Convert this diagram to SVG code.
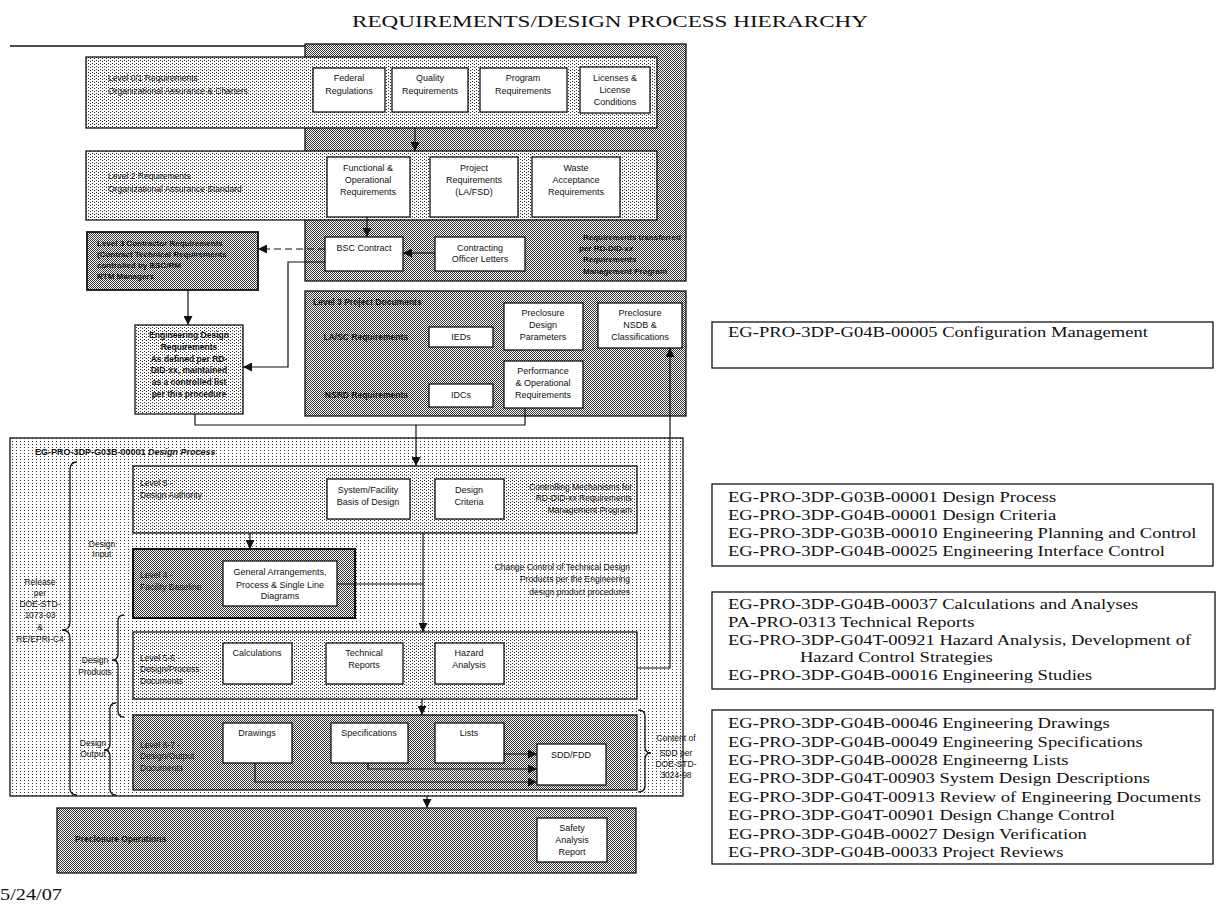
<svg xmlns="http://www.w3.org/2000/svg" width="1221" height="907" viewBox="0 0 1221 907">
<defs>
<pattern id="pL" width="4" height="3" patternUnits="userSpaceOnUse"><rect width="4" height="3" fill="#fff"/><rect width="1" height="1" fill="#333"/></pattern>
<pattern id="pM" width="4" height="3" patternUnits="userSpaceOnUse"><rect width="4" height="3" fill="#fff"/><rect width="1" height="1" fill="#222"/><rect x="2" y="1" width="1" height="1" fill="#222"/></pattern>
<pattern id="pD" width="2" height="2" patternUnits="userSpaceOnUse"><rect width="2" height="2" fill="#fff"/><rect width="1" height="1" fill="#333"/><rect x="1" y="1" width="1" height="1" fill="#333"/></pattern>
<marker id="ah" viewBox="0 0 10 10" refX="10" refY="5" markerWidth="9" markerHeight="9" orient="auto" markerUnits="userSpaceOnUse"><path d="M0,0 L10,5 L0,10 z" fill="#111"/></marker>
</defs>
<style>
.t{font-family:"Liberation Sans",Arial,sans-serif;font-size:8.5px;fill:#111}
.w{font-size:9px}
.c{text-anchor:middle}
.e{text-anchor:end}
.b{font-weight:bold}
.s{font-family:"Liberation Serif","Times New Roman",serif;font-size:15px;fill:#111}
.wb{fill:#fff;stroke:#111;stroke-width:1.3}
.fr{stroke:#111;stroke-width:1.3}
.ln{stroke:#111;stroke-width:1.2;fill:none}
.br{stroke:#111;stroke-width:1.3;fill:none}
</style>
<rect width="1221" height="907" fill="#fff"/>

<text class="s" x="352" y="27" textLength="516" lengthAdjust="spacingAndGlyphs" style="font-size:16px">REQUIREMENTS/DESIGN PROCESS HIERARCHY</text>

<g id="background-regions">
<path d="M10 46 H305" class="ln" style="stroke-width:1.6"/>
<rect x="305" y="44" width="381" height="237" fill="url(#pD)" class="fr"/>
</g>

<g id="level1">
<rect x="86" y="57" width="571" height="71" fill="url(#pM)" class="fr"/>
<text class="t" x="108" y="81">Level 0/1 Requirements</text>
<text class="t" x="108" y="94">Organizational Assurance &amp; Charters</text>
</g>
<g id="federal"><rect class="wb" x="313" y="68" width="72" height="44"/><text class="t w c" x="349" y="81">Federal</text><text class="t w c" x="349" y="94">Regulations</text></g>
<g id="quality"><rect class="wb" x="392" y="68" width="76" height="44"/><text class="t w c" x="430" y="81">Quality</text><text class="t w c" x="430" y="94">Requirements</text></g>
<g id="program"><rect class="wb" x="480" y="68" width="87" height="44"/><text class="t w c" x="523" y="81">Program</text><text class="t w c" x="523" y="94">Requirements</text></g>
<g id="licenses"><rect class="wb" x="580" y="67" width="70" height="46"/><text class="t w c" x="615" y="81">Licenses &amp;</text><text class="t w c" x="615" y="93">License</text><text class="t w c" x="615" y="105">Conditions</text></g>

<g id="level2">
<rect x="86" y="151" width="571" height="69" fill="url(#pM)" class="fr"/>
<text class="t" x="108" y="179">Level 2 Requirements</text>
<text class="t" x="108" y="192">Organizational Assurance Standard</text>
</g>
<g id="functional"><rect class="wb" x="327" y="157" width="83" height="60"/><text class="t w c" x="368" y="171">Functional &amp;</text><text class="t w c" x="368" y="183">Operational</text><text class="t w c" x="368" y="195">Requirements</text></g>
<g id="project"><rect class="wb" x="430" y="157" width="88" height="60"/><text class="t w c" x="474" y="171">Project</text><text class="t w c" x="474" y="183">Requirements</text><text class="t w c" x="474" y="195">(LA/FSD)</text></g>
<g id="waste"><rect class="wb" x="532" y="157" width="88" height="60"/><text class="t w c" x="576" y="171">Waste</text><text class="t w c" x="576" y="183">Acceptance</text><text class="t w c" x="576" y="195">Requirements</text></g>

<g id="bsc-contract"><rect class="wb" x="325" y="237" width="78" height="34"/><text class="t w c" x="364" y="251">BSC Contract</text></g>
<g id="contracting"><rect class="wb" x="435" y="237" width="90" height="34"/><text class="t w c" x="480" y="251">Contracting</text><text class="t w c" x="480" y="262">Officer Letters</text></g>
<g id="transfer-note">
<text class="t b" x="583" y="240" style="font-size:8px">Requirements transferred</text>
<text class="t b" x="579" y="251" style="font-size:8px">per RD-DID-xx</text>
<text class="t b" x="583" y="262" style="font-size:8px">Requirements</text>
<text class="t b" x="583" y="274" style="font-size:8px">Management Program</text>
</g>

<g id="level3-contractor">
<rect x="87" y="232" width="171" height="58" fill="url(#pD)" class="fr" style="stroke-width:1.8"/>
<text class="t b" x="97" y="246" style="font-size:8px">Level 3 Contractor Requirements</text>
<text class="t b" x="97" y="257" style="font-size:8px">(Contract Technical Requirements</text>
<text class="t b" x="97" y="268" style="font-size:8px">controlled by BSC/RM</text>
<text class="t b" x="97" y="279" style="font-size:8px">RTM Managers</text>
</g>

<g id="eng-design-req">
<rect x="135" y="325" width="108" height="89" fill="url(#pM)" class="fr"/>
<text class="t c b" x="189" y="338">Engineering Design</text>
<text class="t c b" x="189" y="350">Requirements</text>
<text class="t c b" x="189" y="362">As defined per RD-</text>
<text class="t c b" x="189" y="373">DID-xx, maintained</text>
<text class="t c b" x="189" y="385">as a controlled list</text>
<text class="t c b" x="189" y="397">per this procedure</text>
</g>

<g id="level3-docs">
<rect x="305" y="291" width="381" height="125" fill="url(#pD)" class="fr"/>
<text class="t b" x="313" y="305">Level 3 Project Documents</text>
<text class="t b e" x="408" y="340">LA/SC Requirements</text>
<text class="t b e" x="408" y="398">NSRD Requirements</text>
</g>
<g id="ieds"><rect class="wb" x="429" y="327" width="64" height="20"/><text class="t w c" x="461" y="340">IEDs</text></g>
<g id="idcs"><rect class="wb" x="429" y="384" width="64" height="23"/><text class="t w c" x="461" y="398">IDCs</text></g>
<g id="preclosure-params"><rect class="wb" x="504" y="303" width="79" height="47"/><text class="t w c" x="543" y="316">Preclosure</text><text class="t w c" x="543" y="328">Design</text><text class="t w c" x="543" y="340">Parameters</text></g>
<g id="performance"><rect class="wb" x="504" y="361" width="79" height="47"/><text class="t w c" x="543" y="374">Performance</text><text class="t w c" x="543" y="386">&amp; Operational</text><text class="t w c" x="543" y="398">Requirements</text></g>
<g id="preclosure-nsdb"><rect class="wb" x="598" y="303" width="84" height="45"/><text class="t w c" x="640" y="316">Preclosure</text><text class="t w c" x="640" y="328">NSDB &amp;</text><text class="t w c" x="640" y="340">Classifications</text></g>

<g id="design-process">
<rect x="10" y="438" width="673" height="358" fill="url(#pL)" class="fr"/>
<text class="t b" x="35" y="455" style="font-size:9px">EG-PRO-3DP-G03B-00001 <tspan font-style="italic">Design Process</tspan></text>
<text class="t c" x="102" y="547">Design</text>
<text class="t c" x="102" y="557">Input</text>
<text class="t c" x="95" y="663">Design</text>
<text class="t c" x="95" y="675">Products</text>
<text class="t c" x="93" y="746">Design</text>
<text class="t c" x="93" y="757">Output</text>
<text class="t c" x="40" y="585">Release</text>
<text class="t c" x="40" y="596">per</text>
<text class="t c" x="40" y="607">DOE-STD-</text>
<text class="t c" x="40" y="618">1073-03</text>
<text class="t c" x="40" y="630">&amp;</text>
<text class="t c" x="40" y="642">RE/EPRI-C4</text>
<path class="br" d="M77 462 Q70 462 70 470 V622 Q70 630 62 630 Q70 630 70 638 V788 Q70 795 77 795"/>
<path class="br" d="M124 615 Q118 615 118 621 V654 Q118 660 112 660 Q118 660 118 666 V711 Q118 717 124 717"/>
<path class="br" d="M116 703 Q110 703 110 709 V744 Q110 750 104 750 Q110 750 110 756 V789 Q110 795 116 795"/>
</g>

<g id="level5">
<rect x="133" y="466" width="504" height="67" fill="url(#pM)" class="fr"/>
<text class="t" x="140" y="486">Level 5 -</text>
<text class="t" x="140" y="498">Design Authority</text>
<text class="t e" x="632" y="490">Controlling Mechanisms for</text>
<text class="t e" x="632" y="501">RD-DID-xx Requirements</text>
<text class="t e" x="632" y="513">Management Program</text>
</g>
<g id="basis-of-design"><rect class="wb" x="327" y="479" width="83" height="40"/><text class="t w c" x="368" y="493">System/Facility</text><text class="t w c" x="368" y="505">Basis of Design</text></g>
<g id="design-criteria"><rect class="wb" x="435" y="479" width="69" height="40"/><text class="t w c" x="469" y="493">Design</text><text class="t w c" x="469" y="505">Criteria</text></g>

<g id="level4">
<rect x="133" y="549" width="222" height="69" fill="url(#pD)" class="fr" style="stroke-width:2"/>
<text class="t" x="140" y="578">Level 4 -</text>
<text class="t" x="140" y="590">Facility Baseline</text>
</g>
<g id="general-arrangements"><rect class="wb" x="223" y="561" width="114" height="45"/><text class="t w c" x="280" y="575">General Arrangements,</text><text class="t w c" x="280" y="588">Process &amp; Single Line</text><text class="t w c" x="280" y="599">Diagrams</text></g>
<g id="change-control-note">
<text class="t e" x="630" y="570">Change Control of Technical Design</text>
<text class="t e" x="630" y="582">Products per the Engineering</text>
<text class="t e" x="630" y="595">design product procedures</text>
</g>

<g id="level6">
<rect x="133" y="632" width="504" height="67" fill="url(#pM)" class="fr"/>
<text class="t" x="140" y="661">Level 5-6 -</text>
<text class="t" x="140" y="672">Design/Process</text>
<text class="t" x="140" y="684">Documents</text>
</g>
<g id="calculations"><rect class="wb" x="223" y="643" width="69" height="41"/><text class="t w c" x="257" y="656">Calculations</text></g>
<g id="technical-reports"><rect class="wb" x="326" y="643" width="77" height="41"/><text class="t w c" x="364" y="656">Technical</text><text class="t w c" x="364" y="668">Reports</text></g>
<g id="hazard-analysis"><rect class="wb" x="435" y="643" width="69" height="41"/><text class="t w c" x="469" y="656">Hazard</text><text class="t w c" x="469" y="668">Analysis</text></g>

<g id="level7">
<rect x="133" y="715" width="504" height="75" fill="url(#pD)" class="fr"/>
<text class="t" x="140" y="748">Level 6-7 -</text>
<text class="t" x="140" y="759">Design/Output</text>
<text class="t" x="140" y="771">Documents</text>
</g>
<g id="drawings"><rect class="wb" x="223" y="723" width="69" height="40"/><text class="t w c" x="257" y="736">Drawings</text></g>
<g id="specifications"><rect class="wb" x="331" y="723" width="77" height="40"/><text class="t w c" x="369" y="736">Specifications</text></g>
<g id="lists"><rect class="wb" x="435" y="723" width="69" height="40"/><text class="t w c" x="469" y="736">Lists</text></g>
<g id="sdd-fdd"><rect class="wb" x="537" y="744" width="69" height="41"/><text class="t w c" x="571" y="758">SDD/FDD</text></g>
<g id="sdd-content-note">
<path class="br" d="M638 710 Q645 710 645 716 V747 Q645 753 651 753 Q645 753 645 759 V786 Q645 792 638 792"/>
<text class="t c" x="676" y="741">Content of</text>
<text class="t c" x="676" y="756">SDD per</text>
<text class="t c" x="676" y="767">DOE-STD-</text>
<text class="t c" x="676" y="778">3024-98</text>
</g>

<g id="preclosure-operations">
<rect x="57" y="808" width="579" height="65" fill="url(#pD)" class="fr"/>
<text class="t b" x="75" y="842">Preclosure Operations</text>
</g>
<g id="safety-analysis"><rect class="wb" x="537" y="818" width="70" height="44"/><text class="t w c" x="572" y="831">Safety</text><text class="t w c" x="572" y="843">Analysis</text><text class="t w c" x="572" y="855">Report</text></g>

<g id="connectors">
<path class="ln" d="M415 128 V151" marker-end="url(#ah)"/>
<path class="ln" d="M367 217 V237" marker-end="url(#ah)"/>
<path class="ln" d="M435 253 H403" marker-end="url(#ah)"/>
<path class="ln" d="M325 249 H258" stroke-dasharray="7 4" marker-end="url(#ah)"/>
<path class="ln" d="M188 290 V325" marker-end="url(#ah)"/>
<path class="ln" d="M325 262 H288 V367 H243" marker-end="url(#ah)"/>
<path class="ln" d="M195 414 V425 H525 V408"/>
<path class="ln" d="M416 425 V466" marker-end="url(#ah)"/>
<path class="ln" d="M637 668 H670 V348" marker-end="url(#ah)"/>
<path class="ln" d="M250 533 V549" marker-end="url(#ah)"/>
<path class="ln" d="M423 533 V632" marker-end="url(#ah)"/>
<path class="ln" d="M337 584 H423"/>
<path class="ln" d="M422 699 V715" marker-end="url(#ah)"/>
<path class="ln" d="M504 754 H537" marker-end="url(#ah)"/>
<path class="ln" d="M368 763 V769 H537" marker-end="url(#ah)"/>
<path class="ln" d="M255 763 V782 H537" marker-end="url(#ah)"/>
<path class="ln" d="M427 796 V808" marker-end="url(#ah)"/>
</g>

<g id="ref-config">
<rect x="712" y="322" width="501" height="46" fill="#fff" stroke="#111" stroke-width="1.3"/>
<g transform="translate(728 0) scale(1.24 1)">
<text class="s" x="0" y="337">EG-PRO-3DP-G04B-00005  Configuration Management</text>
</g>
</g>
<g id="ref-design">
<rect x="712" y="484" width="501" height="82" fill="#fff" stroke="#111" stroke-width="1.3"/>
<g transform="translate(728 0) scale(1.24 1)">
<text class="s" x="0" y="502">EG-PRO-3DP-G03B-00001  Design Process</text>
<text class="s" x="0" y="520">EG-PRO-3DP-G04B-00001  Design Criteria</text>
<text class="s" x="0" y="538">EG-PRO-3DP-G03B-00010  Engineering Planning and Control</text>
<text class="s" x="0" y="556">EG-PRO-3DP-G04B-00025  Engineering Interface Control</text>
</g>
</g>
<g id="ref-products">
<rect x="712" y="592" width="503" height="97" fill="#fff" stroke="#111" stroke-width="1.3"/>
<g transform="translate(728 0) scale(1.24 1)">
<text class="s" x="0" y="609">EG-PRO-3DP-G04B-00037  Calculations and Analyses</text>
<text class="s" x="0" y="627">PA-PRO-0313 Technical Reports</text>
<text class="s" x="0" y="645">EG-PRO-3DP-G04T-00921  Hazard Analysis, Development of</text>
<text class="s" x="58" y="662">Hazard Control Strategies</text>
<text class="s" x="0" y="680">EG-PRO-3DP-G04B-00016  Engineering Studies</text>
</g>
</g>
<g id="ref-output">
<rect x="712" y="710" width="501" height="154" fill="#fff" stroke="#111" stroke-width="1.3"/>
<g transform="translate(728 0) scale(1.24 1)">
<text class="s" x="0" y="728">EG-PRO-3DP-G04B-00046  Engineering Drawings</text>
<text class="s" x="0" y="747">EG-PRO-3DP-G04B-00049  Engineering Specifications</text>
<text class="s" x="0" y="765">EG-PRO-3DP-G04B-00028  Engineerng Lists</text>
<text class="s" x="0" y="783">EG-PRO-3DP-G04T-00903  System Design Descriptions</text>
<text class="s" x="0" y="802">EG-PRO-3DP-G04T-00913  Review of Engineering Documents</text>
<text class="s" x="0" y="820">EG-PRO-3DP-G04T-00901  Design Change Control</text>
<text class="s" x="0" y="839">EG-PRO-3DP-G04B-00027  Design Verification</text>
<text class="s" x="0" y="857">EG-PRO-3DP-G04B-00033  Project Reviews</text>
</g>
</g>

<text class="s" x="0" y="900" textLength="62" lengthAdjust="spacingAndGlyphs" style="font-size:16px">5/24/07</text>
</svg>
